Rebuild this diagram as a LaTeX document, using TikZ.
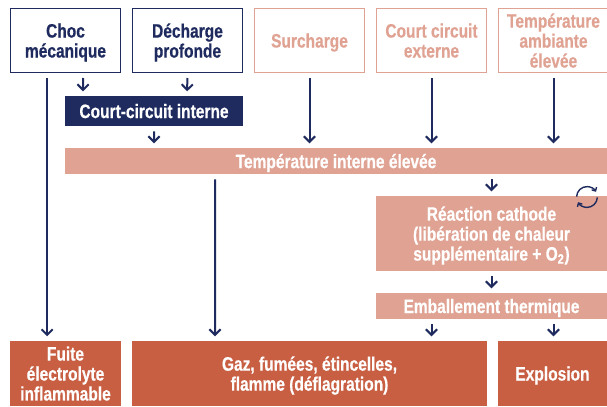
\documentclass[tikz,border=0pt]{standalone}
\usepackage{fontspec}
\setmainfont[FakeStretch=0.80,BoldFeatures={FakeStretch=0.80,FakeBold=0.5}]{Liberation Sans}
\usetikzlibrary{arrows.meta}

\definecolor{navy}{HTML}{1F2B5E}
\definecolor{salmon}{HTML}{E0A292}
\definecolor{rouge}{HTML}{C85E42}

\tikzset{
  txt/.style={align=center,font=\fontsize{13.8}{14.2}\selectfont\bfseries,inner sep=0pt,text depth=0pt},
  cause/.style={txt,draw=navy,text=navy,line width=0.03cm,minimum width=2.745cm,minimum height=1.595cm},
  causeb/.style={txt,draw=salmon,text=salmon,line width=0.03cm,minimum width=2.745cm,minimum height=1.595cm},
  barre/.style={txt,fill=salmon,text=white},
  effet/.style={txt,fill=rouge,text=white,minimum height=1.625cm},
  fl/.style={draw=navy,line width=0.05cm,-{Straight Barb[length=0.14cm,width=0.28cm,line width=0.05cm]},shorten <=0.125cm,shorten >=0.11cm}
}

\begin{document}
\begin{tikzpicture}
\useasboundingbox (0,0) rectangle (15.175,10.15);

\node[cause] (choc) at (1.6375,9.1375) {Choc\\mécanique};
\node[cause] (decharge) at (4.6875,9.1375) {Décharge\\profonde};
\node[causeb] (surcharge) at (7.7375,9.1375) {Surcharge};
\node[causeb] (court) at (10.7875,9.1375) {Court circuit\\externe};
\node[causeb] (ambiante) at (13.8375,9.1375) {Température\\ambiante\\élevée};

\node[txt,fill=navy,text=white,minimum width=4.45cm,minimum height=0.75cm] (interne) at (3.85,7.375) {Court-circuit interne};
\node[barre,minimum width=13.55cm,minimum height=0.65cm] (temp) at (8.4,6.125) {Température interne élevée};
\node[barre,minimum width=5.775cm,minimum height=1.875cm] (cathode) at (12.2875,4.3125) {Réaction cathode\\(libération de chaleur\\supplémentaire + O\textsubscript{2})};
\node[barre,minimum width=5.775cm,minimum height=0.65cm] (emball) at (12.2875,2.5) {Emballement thermique};

\node[effet,minimum width=2.775cm] (fuite) at (1.6375,0.8125) {Fuite\\électrolyte\\inflammable};
\node[effet,minimum width=8.875cm] (gaz) at (7.7375,0.8125) {Gaz, fumées, étincelles,\\flamme (déflagration)};
\node[effet,minimum width=2.725cm] (explosion) at (13.8125,0.8125) {Explosion};

% causes
\draw[fl] ([xshift=-0.46cm]choc.south) -- ([xshift=-0.46cm]fuite.north);
\draw[fl] ([xshift=0.44cm]choc.south) -- ([xshift=-1.775cm]interne.north);
\draw[fl] (decharge.south) -- ([xshift=0.825cm]interne.north);
\draw[fl] (interne.south) -- ([xshift=-4.55cm]temp.north);
\draw[fl] (surcharge.south) -- (surcharge.south |- temp.north);
\draw[fl] (court.south) -- (court.south |- temp.north);
\draw[fl] (ambiante.south) -- (ambiante.south |- temp.north);

% suite
\draw[fl] ([xshift=-3.025cm]temp.south) -- ([xshift=-2.3625cm]gaz.north);
\draw[fl] (temp.south -| cathode.north) -- (cathode.north);
\draw[fl] (cathode.south) -- (emball.north);
\draw[fl] (emball.south -| court.south) -- (court.south |- gaz.north);
\draw[fl] (emball.south -| ambiante.south) -- (ambiante.south |- explosion.north);

% cycle
\draw[navy,line width=0.035cm,-{Straight Barb[length=0.07cm,width=0.14cm]}] (14.675,5.225) ++(178:0.26) arc (178:30:0.26);
\draw[navy,line width=0.035cm,-{Straight Barb[length=0.07cm,width=0.14cm]}] (14.675,5.225) ++(-2:0.26) arc (-2:-150:0.26);
\end{tikzpicture}
\end{document}
